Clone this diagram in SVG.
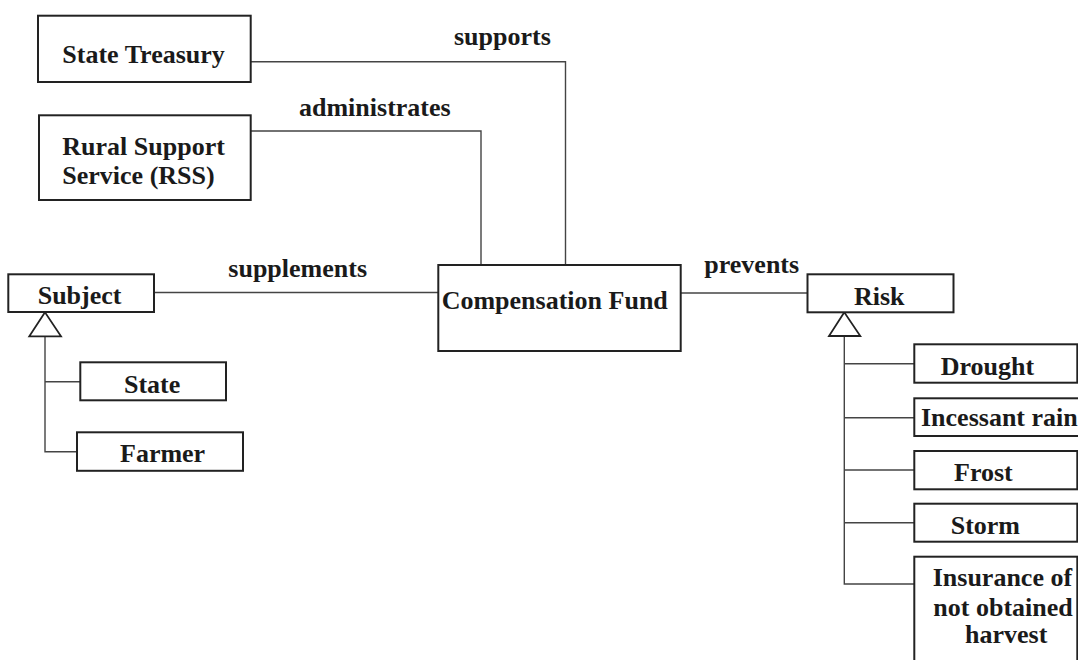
<svg xmlns="http://www.w3.org/2000/svg" width="1078" height="660" viewBox="0 0 1078 660">
<style>
.box{fill:#fff;stroke:#222;stroke-width:2}
.ln{fill:none;stroke:#444;stroke-width:1.4}
.tri{fill:#fff;stroke:#222;stroke-width:1.8}
text{font-family:"Liberation Serif","Times New Roman",serif;font-weight:bold;font-size:26px;fill:#1a1a1a}
</style>
<rect width="1078" height="660" fill="#fff"/>
<g id="connectors">
<polyline class="ln" points="250.7,61.7 565.5,61.7 565.5,265"/>
<polyline class="ln" points="250.7,131 481,131 481,265"/>
<line class="ln" x1="154" y1="292.5" x2="438.3" y2="292.5"/>
<line class="ln" x1="680.7" y1="293" x2="807.5" y2="293"/>
<polyline class="ln" points="45,336.3 45,451.7 77,451.7"/>
<line class="ln" x1="45" y1="381.7" x2="80.3" y2="381.7"/>
<polyline class="ln" points="844.3,336 844.3,584 914.3,584"/>
<line class="ln" x1="844.3" y1="363.7" x2="914.3" y2="363.7"/>
<line class="ln" x1="844.3" y1="417.7" x2="914.3" y2="417.7"/>
<line class="ln" x1="844.3" y1="470" x2="914.3" y2="470"/>
<line class="ln" x1="844.3" y1="522.7" x2="914.3" y2="522.7"/>
<polygon class="tri" points="45,312.3 29.3,336.3 61,336.3"/>
<polygon class="tri" points="844.3,312.3 829,336 860.3,336"/>
<text x="454" y="45">supports</text>
<text x="299" y="116">administrates</text>
<text x="228.3" y="276.7">supplements</text>
<text x="704.3" y="273.3">prevents</text>
</g>
<g id="state-treasury"><rect class="box" x="38" y="15.7" width="212.7" height="66.3"/><text x="62.3" y="63.3">State Treasury</text></g>
<g id="rss"><rect class="box" x="39" y="115.3" width="211.7" height="84.7"/><text x="62.3" y="155">Rural Support</text><text x="62.3" y="184.3">Service (RSS)</text></g>
<g id="subject"><rect class="box" x="8.3" y="274.3" width="145.7" height="37.7"/><text x="37.7" y="304">Subject</text></g>
<g id="state"><rect class="box" x="80.3" y="362.3" width="145.7" height="38"/><text x="124" y="393.3">State</text></g>
<g id="farmer"><rect class="box" x="77" y="432.3" width="166" height="38.5"/><text x="120" y="462.3">Farmer</text></g>
<g id="compensation-fund"><rect class="box" x="438.3" y="265" width="242.4" height="86"/><text x="441.7" y="309.3">Compensation Fund</text></g>
<g id="risk"><rect class="box" x="807.5" y="274.3" width="146" height="38"/><text x="854" y="305">Risk</text></g>
<g id="drought"><rect class="box" x="914.3" y="344.3" width="163" height="38.4"/><text x="940.7" y="375">Drought</text></g>
<g id="incessant-rain"><rect class="box" x="914.3" y="398.3" width="170" height="37.7"/><text x="921" y="425.7">Incessant rain</text></g>
<g id="frost"><rect class="box" x="914.3" y="451" width="163" height="38.3"/><text x="954" y="481.3">Frost</text></g>
<g id="storm"><rect class="box" x="914.3" y="503.7" width="163" height="38"/><text x="950.7" y="534">Storm</text></g>
<g id="insurance"><rect class="box" x="914.3" y="556.7" width="163" height="120"/><text x="932.7" y="585.7">Insurance of</text><text x="933.3" y="616">not obtained</text><text x="965" y="643.3">harvest</text></g>
</svg>
